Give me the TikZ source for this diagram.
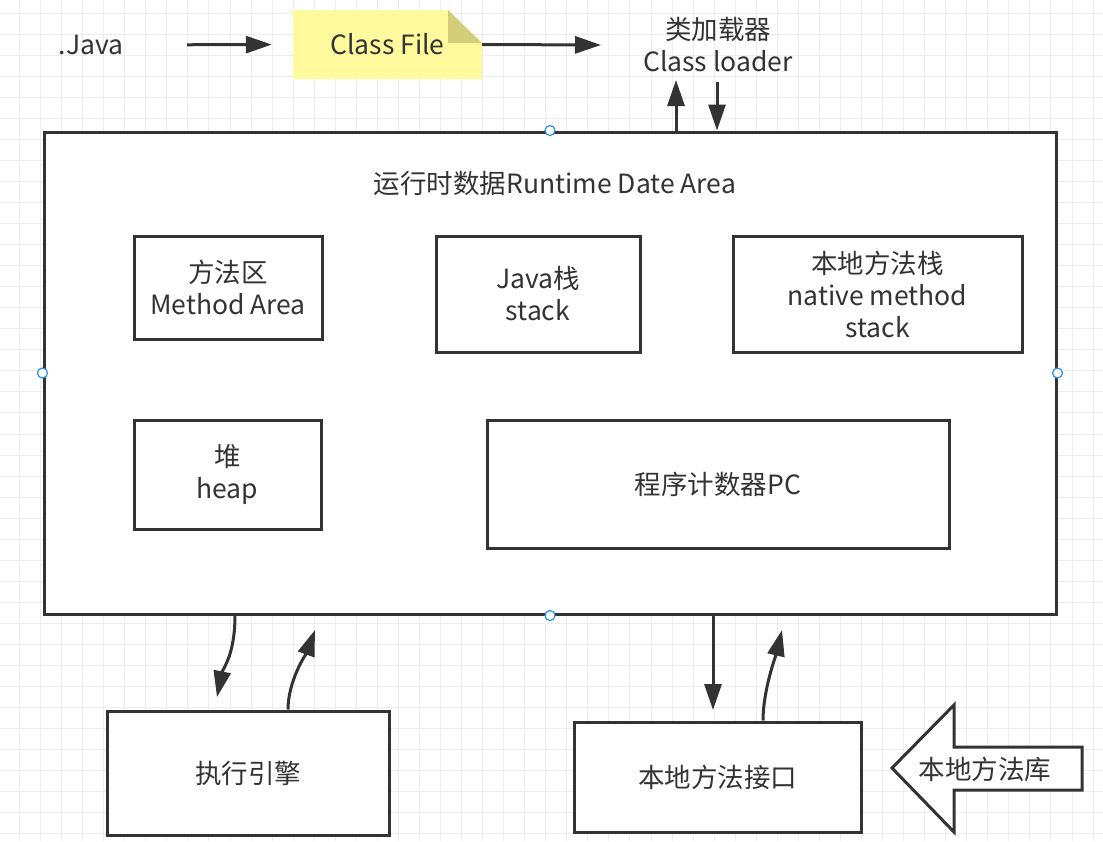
\documentclass[tikz,border=0pt]{standalone}
\usepackage{fontspec}
\setmainfont{Noto Sans CJK SC}
\usetikzlibrary{positioning,arrows.meta,calc}
\definecolor{ink}{RGB}{51,51,51}
\definecolor{notefill}{RGB}{255,250,158}
\definecolor{notefold}{RGB}{210,206,122}
\definecolor{handle}{RGB}{41,140,240}
\definecolor{gridline}{RGB}{236,236,236}
\newcommand{\lbl}{\fontsize{26.5}{32}\selectfont}

\tikzset{
  box/.style={draw=ink, line width=3pt, fill=white, align=center, font=\lbl, text=ink, inner sep=0pt},
  txt/.style={align=center, font=\lbl, text=ink, inner sep=0pt},
  link/.style={draw=ink, line width=3pt, -{Triangle[length=26pt,width=17pt]}},
  grip/.style={circle, draw=handle, fill=white, line width=1.2pt, minimum size=10pt, inner sep=0pt},
}

\begin{document}
\begin{tikzpicture}[x=1pt,y=-1pt]
  \useasboundingbox[fill=white] (0,0) rectangle (1103,841);
  % grid
  \foreach \gx in {0,...,51}
    \draw[gridline, line width=1pt] ({19.5+21.05*\gx},0) -- ({19.5+21.05*\gx},841);
  \foreach \gy in {0,...,39}
    \draw[gridline, line width=1pt] (0,{13+21.05*\gy}) -- (1103,{13+21.05*\gy});

  % source and class file
  \node[txt] (src) at (91,45) {.Java};
  \fill[notefill] (293,10) -- (448,10) -- (482,43) -- (482,79) -- (293,79) -- cycle;
  \fill[notefold] (448,10) -- (448,43) -- (482,43) -- cycle;
  \node[txt, minimum width=189, minimum height=69] (cls) at (387.5,44.5) {Class File};
  \node[txt] (loader) at (718,45) {类加载器\\Class loader};
  \coordinate (ldin) at (601,45);
  \draw[link, shorten <=96pt, shorten >=21pt] (src.center) -- (cls.west);
  \draw[link] (cls.east) -- (ldin);

  % runtime data area
  \node[box, minimum width=1012, minimum height=482] (main) at (550,373) {};
  \node[txt] (title) at (555,183) {运行时数据Runtime Date Area};
  \node[box, minimum width=188, minimum height=103] (method) at (228,287.5) {方法区\\Method Area};
  \node[box, minimum width=204, minimum height=116] (jstack) at (538,294) {Java栈\\stack};
  \node[box, minimum width=289, minimum height=116] (nstack) at (877.5,294) {本地方法栈\\native method\\stack};
  \node[box, minimum width=187, minimum height=109] (heap) at (227.5,474.5) {堆\\heap};
  \node[box, minimum width=462, minimum height=128] (pc) at (718,484) {程序计数器PC};
  \foreach \a in {north,south,east,west}
    \node[grip] (grip-\a) at (main.\a) {};

  % class loader in and out
  \coordinate (ldup) at (676,80);
  \coordinate (lddn) at (717,82);
  \draw[link] (ldup |- main.north) -- (ldup);
  \draw[link] (lddn) -- (lddn |- main.north);

  % execution engine
  \node[box, minimum width=282, minimum height=124] (exec) at (248,773) {执行引擎};
  \coordinate (exdn) at (217,697);
  \coordinate (exup) at (315,630);
  \draw[link] ($(main.south)+(-315,0)$) .. controls (235,655) and (223,668) .. (exdn);
  \draw[link] ($(exec.north)+(40,0)$) .. controls (288,680) and (307,652) .. (exup);

  % native interface
  \node[box, minimum width=287, minimum height=110] (jni) at (717.5,777) {本地方法接口};
  \coordinate (nidn) at (713,710);
  \coordinate (niup) at (782,630);
  \draw[link] (nidn |- main.south) -- (nidn);
  \draw[link] ($(jni.north)+(45.5,0)$) .. controls (763,690) and (776,655) .. (niup);

  % native library
  \draw[ink, line width=3pt, fill=white] (892,768) -- (954,705) -- (954,747) -- (1082,747)
    -- (1082,790) -- (954,790) -- (954,832) -- cycle;
  \node[txt] (lib) at (985,769) {本地方法库};
\end{tikzpicture}
\end{document}
